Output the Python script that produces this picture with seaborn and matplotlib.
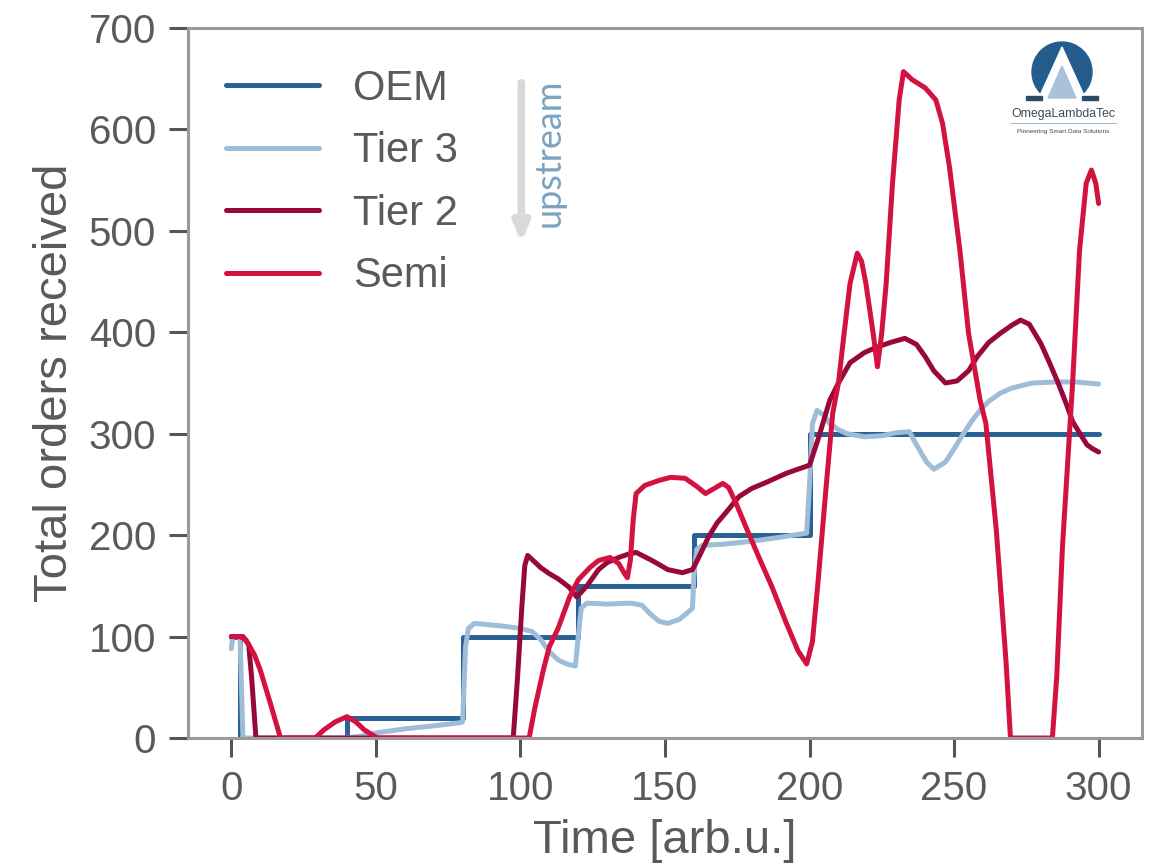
import matplotlib
matplotlib.use("Agg")
import matplotlib.pyplot as plt
import seaborn as sns
import numpy as np
from matplotlib.patches import Wedge, Polygon, Rectangle

# OEM orders (step function)
oem_t = [0, 3, 40, 80, 120, 160, 200, 300]
oem_v = [100, 0, 20, 100, 150, 200, 300, 300]

# Tier 3
tier3_t = [0, 0.5, 3, 3.5, 4, 40, 45, 50, 60, 70, 79, 80, 81, 82, 84, 88, 95, 100,
           104, 107, 110, 113, 116, 119, 120, 121, 123, 130, 138, 142, 145, 148, 151,
           155, 158, 159.5, 160, 161, 163, 170, 180, 190, 199, 200, 201, 202.6, 205,
           207, 210, 213, 219, 225, 230, 234.5, 238, 240.5, 243, 247, 250, 253, 256,
           259, 262, 266, 270, 277, 285, 292, 300]
tier3_v = [88, 100, 100, 50, 0, 0, 2, 5, 9, 12, 15, 16, 90, 108, 113, 112, 110, 108,
           105, 97, 85, 77, 73, 71, 100, 128, 133, 132, 133, 131, 122, 115, 113,
           117, 124, 128, 160, 186, 190, 191, 194, 198, 202, 250, 310, 323, 318,
           310, 304, 300, 297, 298, 301, 302, 284, 272, 265, 272, 285, 299, 312,
           323, 332, 340, 345, 350, 351, 351, 349]

# Tier 2
tier2_t = [0, 4, 6, 7, 8, 8.5, 97.5, 99, 100.5, 101.5, 102.5, 104, 107, 110, 113,
           116.7, 119.5, 123, 127, 130, 134, 137, 140, 145.5, 151, 156, 159.5, 162,
           165, 168, 171, 175.6, 180, 185, 192, 200, 203, 207, 210, 214, 219, 223,
           228, 233, 237, 240, 243, 247, 251, 255, 258, 262, 266, 270, 273, 276, 280,
           283, 286, 289, 291, 294, 296, 298, 300]
tier2_v = [100, 100, 92, 60, 20, 0, 0, 60, 130, 170, 180, 176, 168, 162, 157,
           149, 139, 150, 166, 173, 178, 181, 183, 175, 166, 163, 166, 180,
           198, 212, 222, 238, 246, 252, 261, 269, 295, 333, 350, 370, 380, 385,
           390, 394, 388, 376, 362, 350, 352, 362, 376, 390, 399, 407, 412, 408, 389,
           370, 350, 328, 312, 298, 289, 285, 282]

# Semi
semi_t = [0, 3, 5, 8, 10, 13.5, 17, 29, 32, 36, 40, 43, 46, 50.5, 103, 105, 108,
          110, 113, 117, 120, 124, 127, 131, 134, 136, 137, 138, 139, 140, 143, 148,
          152, 157, 161, 164, 167, 170, 172, 174.5, 178, 182.5, 187, 192, 196, 199,
          201, 203, 205.5, 208, 210, 212, 214, 216.5, 218, 219.5, 222, 223.5, 225,
          226.5, 228.7, 231, 232.5, 235.5, 240, 243.7, 246, 248.4, 252, 255, 259,
          261, 264.6, 268, 269.5, 284, 285.5, 287.5, 290, 291, 293.4, 295.7, 297.5,
          299, 300]
semi_v = [100, 100, 97, 82, 67, 34, 0, 0, 8, 16, 21, 16, 8, 0, 0, 30, 68,
          90, 108, 139, 156, 168, 175, 178, 172, 162, 158, 175, 215, 241, 249, 254,
          257, 256, 248, 241, 246, 251, 247, 232, 208, 178, 149, 113, 86, 73,
          95, 156, 240, 320, 350, 400, 448, 478, 470, 448, 399, 366, 400,
          448, 547, 629, 657, 649, 641, 629, 606, 563, 481, 399, 333,
          310, 205, 74, 0, 0, 60, 189, 304, 350, 481, 547, 560,
          547, 527]

labels = ["OEM", "Tier 3", "Tier 2", "Semi"]
colors = ["#2a6294", "#9dbdd8", "#99083a", "#d3123f"]

text_grey = "#5a5a5a"
sns.set_style("ticks")
plt.rcParams["font.family"] = ["Liberation Sans", "DejaVu Sans"]
plt.rcParams["text.color"] = text_grey
plt.rcParams["axes.labelcolor"] = text_grey
plt.rcParams["xtick.color"] = text_grey
plt.rcParams["ytick.color"] = text_grey

fig = plt.figure(figsize=(11.56, 8.68), dpi=100)
ax = fig.add_axes([188 / 1156, 130 / 868, (1142 - 188) / 1156, (738 - 28) / 868])

lw = 3.6
sns.lineplot(x=oem_t, y=oem_v, ax=ax, color=colors[0], lw=lw, label=labels[0],
             drawstyle="steps-post", estimator=None, sort=False)
sns.lineplot(x=tier3_t, y=tier3_v, ax=ax, color=colors[1], lw=lw, label=labels[1],
             estimator=None, sort=False)
sns.lineplot(x=tier2_t, y=tier2_v, ax=ax, color=colors[2], lw=lw, label=labels[2],
             estimator=None, sort=False)
sns.lineplot(x=semi_t, y=semi_v, ax=ax, color=colors[3], lw=lw, label=labels[3],
             estimator=None, sort=False)

ax.set_xlim(-15, 315)
ax.set_ylim(0, 700)
ax.set_xticks([0, 50, 100, 150, 200, 250, 300])
ax.set_yticks(range(0, 701, 100))
ax.tick_params(labelsize=29, length=14, width=2.2, color="#555555", pad=9)
for s in ax.spines.values():
    s.set_color("#9a9a9a")
    s.set_linewidth(2.2)
ax.set_xlabel("Time [arb.u.]", fontsize=34, labelpad=8)
ax.set_ylabel("Total orders received", fontsize=34, labelpad=8)

leg = ax.legend(loc="upper left", frameon=False, fontsize=30, handlelength=2.25,
                handletextpad=0.8, labelspacing=0.54, borderaxespad=0.0,
                bbox_to_anchor=(0.022, 0.966))
for line in leg.get_lines():
    line.set_linewidth(lw)

# upstream arrow
ax.annotate("", xy=(100.3, 488), xytext=(100.3, 646),
            arrowprops=dict(arrowstyle="-|>,head_width=0.45,head_length=1.1",
                            color="#d9d9d9", lw=5.5, shrinkA=0, shrinkB=0))
ax.text(109.8, 577, "upstream", rotation=90, ha="center", va="center",
        fontsize=26, color="#7ba3bf", family=["Lato", "DejaVu Sans"])

# logo
lax = fig.add_axes([1005 / 1156, (868 - 140) / 868, 115 / 1156, 100 / 868])
lax.set_xlim(1005, 1120)
lax.set_ylim(140, 40)
lax.axis("off")
lax.add_patch(Wedge((1062, 72), 30, 0, 360, color="#245c8d"))
lax.add_patch(Rectangle((1025, 97), 75, 12, color="white"))
lax.add_patch(Polygon([[1062, 47], [1038, 100], [1086, 100]], color="white"))
lax.add_patch(Polygon([[1062, 66], [1048, 98], [1076, 98]], color="#a9c2da"))
lax.add_patch(Rectangle((1026, 96), 16, 4, color="#2d4a66"))
lax.add_patch(Rectangle((1082, 96), 16, 4, color="#2d4a66"))
lax.text(1063, 114, "OmegaLambdaTec", ha="center", va="center", fontsize=8.8,
         color="#3a4a5c")
lax.plot([1010, 1116], [123, 123], color="#b0b8c2", lw=0.8)
lax.text(1063, 131, "Pioneering Smart Data Solutions", ha="center", va="center",
         fontsize=4.6, color="#3a4a5c")

fig.savefig("out.png", dpi=100)
